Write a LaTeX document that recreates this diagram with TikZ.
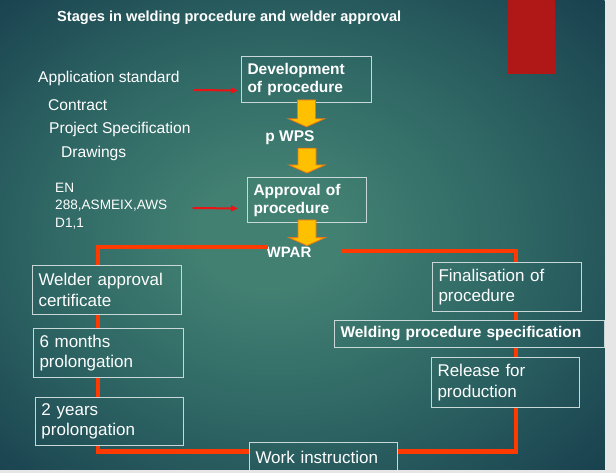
\documentclass[tikz,border=0pt]{standalone}
\usepackage{fontspec}
\setmainfont{Liberation Sans}
\usetikzlibrary{arrows.meta}
\usetikzlibrary{positioning, calc}

\definecolor{bgcentre}{RGB}{66,128,114}
\definecolor{bgmid}{RGB}{46,102,100}
\definecolor{bgedge}{RGB}{22,60,76}
\definecolor{boxline}{RGB}{200,215,215}
\definecolor{loopred}{RGB}{255,58,0}
\definecolor{arrowred}{RGB}{235,20,20}
\definecolor{arrowyellow}{RGB}{255,192,0}
\definecolor{arrowedge}{RGB}{235,120,20}
\definecolor{slidered}{RGB}{175,24,22}
\definecolor{stripgrey}{RGB}{230,230,230}

\pgfdeclareradialshading{slidebg}{\pgfpoint{-3bp}{0bp}}{color(0bp)=(bgcentre); color(6bp)=(bgcentre); color(20bp)=(bgmid); color(38bp)=(bgedge); color(50bp)=(bgedge)}

\newcommand{\boxfont}{\fontsize{17}{20.5}\selectfont}
\newcommand{\boldfont}{\fontsize{15.5}{18}\selectfont\bfseries}

\begin{document}
\begin{tikzpicture}[x=1pt, y=-1pt]
    % Define styles
    \tikzstyle{stage} = [rectangle, draw=boxline, line width=1pt, text=white, align=left, anchor=north west, inner xsep=6pt, inner ysep=0pt, font=\boxfont]
    \tikzstyle{stagebold} = [stage, font=\boldfont]
    \tikzstyle{listtext} = [text=white, inner sep=0pt, anchor=west, font=\fontsize{15.6}{18}\selectfont]
    \tikzstyle{loopline} = [line width=4.5pt, draw=loopred]
    \tikzstyle{inputarrow} = [-{Triangle[length=7pt,width=6pt]}, line width=2pt, draw=arrowred]
    \tikzstyle{yarrow} = [fill=arrowyellow, draw=arrowedge, line width=0.8pt]

    % Slide
    \useasboundingbox (0,0) rectangle (616,473);
    \shade[shading=slidebg] (0,0) rectangle (604.5,470);
    \fill[slidered] (508,0) rectangle (555,74);

    \node[listtext, font=\fontsize{14.6}{17}\selectfont\bfseries] (title) at (57,18) {Stages in welding procedure and welder approval};

    % Inputs
    \node[listtext] (appstd) at (38,78) {Application standard};
    \node[listtext] (contract) at (48,105) {Contract};
    \node[listtext] (projspec) at (49,129) {Project Specification};
    \node[listtext] (drawings) at (61,153) {Drawings};
    \node[listtext, align=left, font=\fontsize{13.6}{17.5}\selectfont] (codes) at (55,206) {EN\\288,ASMEIX,AWS\\D1,1};

    % Procedure
    \node[stagebold, text width=118pt, minimum height=46pt] (dev) at (241,56) {Development\\of procedure};
    \node[listtext, anchor=center, font=\boldfont] (pwps) at (290,138) {p WPS};
    \node[stagebold, text width=107pt, minimum height=45pt] (appr) at (247,177) {Approval of\\procedure};
    \node[listtext, anchor=center, font=\fontsize{15}{18}\selectfont\bfseries] (wpar) at (289,252) {WPAR};

    % Welder approval
    \node[stage, text width=137pt, minimum height=49pt] (welder) at (32,265) {Welder approval\\certificate};
    \node[stage, text width=138pt, minimum height=49pt, below=13pt of welder.south west, anchor=north west, xshift=1pt] (six) {6 months\\prolongation};
    \node[stage, text width=136pt, minimum height=48pt, below=19pt of six.south west, anchor=north west, xshift=2pt] (two) {2 years\\prolongation};
    \node[stage, text width=136pt, minimum height=30pt] (work) at (249,442) {Work instruction};

    % Procedure release
    \node[stage, text width=137pt, minimum height=49pt] (final) at (432,262) {Finalisation of\\procedure};
    \node[stagebold, text width=258pt, minimum height=27pt] (wps) at (334,320) {Welding procedure specification};
    \node[stage, text width=136pt, minimum height=50pt] (release) at (431,357) {Release for\\production};

    % Yellow arrows
    \filldraw[yarrow] let \p1=(dev.south), \p2=(pwps.north), \p3=(dev.center) in
        (\x3-9pt,\y1+3pt) -- (\x3+9pt,\y1+3pt) -- (\x3+9pt,\y2+12pt) -- (\x3+18pt,\y2+12pt)
        -- (\x3,\y2+4pt) -- (\x3-18pt,\y2+12pt) -- (\x3-9pt,\y2+12pt) -- cycle;
    \filldraw[yarrow] let \p1=(pwps.south), \p2=(appr.north), \p3=(appr.center) in
        (\x3-9pt,\y1-3pt) -- (\x3+9pt,\y1-3pt) -- (\x3+9pt,\y2+12pt) -- (\x3+18pt,\y2+12pt)
        -- (\x3,\y2+4pt) -- (\x3-18pt,\y2+12pt) -- (\x3-9pt,\y2+12pt) -- cycle;
    \filldraw[yarrow] let \p1=(appr.south), \p2=(wpar.north), \p3=(appr.center) in
        (\x3-9pt,\y1+3pt) -- (\x3+9pt,\y1+3pt) -- (\x3+9pt,\y2+9pt) -- (\x3+18pt,\y2+9pt)
        -- (\x3,\y2+1pt) -- (\x3-18pt,\y2+9pt) -- (\x3-9pt,\y2+9pt) -- cycle;

    % Input arrows
    \draw[inputarrow] ([xshift=14pt,yshift=-12pt]appstd.east) -- ([xshift=-3pt,yshift=-11pt]dev.west);
    \draw[inputarrow] ([xshift=25pt,yshift=-2pt]codes.east) -- ([xshift=-9pt,yshift=-8.5pt]appr.west);

    % Loop
    \coordinate (lx) at (98,0);
    \coordinate (rx) at (516,0);
    \draw[loopline] ([xshift=2pt,yshift=5pt]wpar.west) -| (welder.north -| lx);
    \draw[loopline] ([xshift=29pt,yshift=1pt]wpar.east) -| (final.north -| rx);
    \draw[loopline] (welder.south -| lx) -- (six.north -| lx);
    \draw[loopline] (six.south -| lx) -- (two.north -| lx);
    \draw[loopline] (two.south -| lx) |- ([yshift=6pt]work.west);
    \draw[loopline] ([yshift=6pt]work.east) -| (release.south -| rx);
    \draw[loopline] (release.north -| rx) -- (wps.south -| rx);
    \draw[loopline] (wps.north -| rx) -- (final.south -| rx);

    % Page edges
    \fill[stripgrey] (604.5,0) rectangle (616,473);
    \fill[stripgrey] (0,470) rectangle (616,473);
\end{tikzpicture}
\end{document}
